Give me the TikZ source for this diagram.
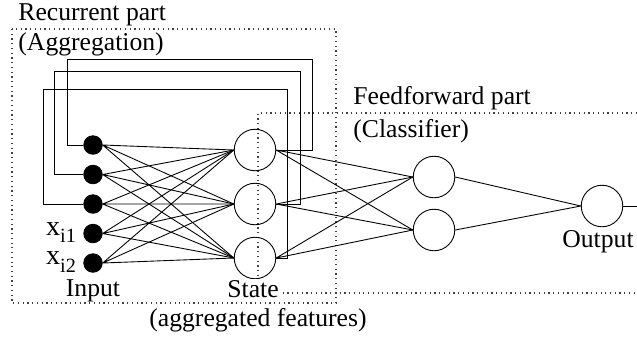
\documentclass[tikz,border=0pt]{standalone}
\usepackage{fontspec}
\setmainfont{Liberation Serif}
\newcommand{\subidx}[1]{\raisebox{-0.28em}{\fontsize{11.5}{12}\selectfont #1}}
\begin{document}
\begin{tikzpicture}[font=\fontsize{14.6}{17}\selectfont,line width=0.5pt,
        inp/.style={circle,draw,fill=black,minimum size=0.37cm,inner sep=0pt},
        neuron/.style={circle,draw,minimum size=0.83cm,inner sep=0pt},
        part/.style={dotted,line width=0.7pt,black!75},
        lbl/.style={inner sep=0pt}]
            \useasboundingbox (0,0) rectangle (12.74,-6.8);
            % Dotted frames
            \draw[part] (0.24,-0.58) rectangle (6.72,-6.06);
            \draw[part] (12.74,-2.26) -- (5.16,-2.26) -- (5.16,-5.86) -- (12.74,-5.86);
            \node[lbl,anchor=west] (node12) at (0.36,-0.30) {Recurrent part};
            \node[lbl,anchor=west] (node13) at (0.36,-0.88) {(Aggregation)};
            \node[lbl,anchor=west] (node14) at (7.06,-1.96) {Feedforward part};
            \node[lbl,anchor=west] (node15) at (7.06,-2.62) {(Classifier)};
            % Input layer
            \node[inp] (node1) at (1.86,-2.90) {};
            \node[inp] (node2) at (1.86,-3.49) {};
            \node[inp] (node3) at (1.86,-4.08) {};
            \node[inp] (node4) at (1.86,-4.67) {};
            \node[inp] (node5) at (1.86,-5.26) {};
            \node[lbl,anchor=east,xshift=-0.14cm,yshift=0.02cm] (node16) at (node4.west) {\fontsize{16}{18}\selectfont x\subidx{i1}};
            \node[lbl,anchor=east,xshift=-0.14cm,yshift=0.02cm] (node17) at (node5.west) {\fontsize{16}{18}\selectfont x\subidx{i2}};
            \node[lbl,yshift=-0.36cm] (node18) at (node5.south) {Input};
            % State layer
            \node[neuron] (node6) at (5.10,-3.00) {};
            \node[neuron] (node7) at (5.10,-4.08) {};
            \node[neuron] (node8) at (5.10,-5.16) {};
            \node[lbl,fill=white,inner sep=1pt,yshift=-0.2cm,xshift=-0.04cm] (node19) at (node8.south) {State};
            \node[lbl] (node20) at (5.16,-6.40) {(aggregated features)};
            % Classifier and output
            \node[neuron] (node9) at (8.68,-3.54) {};
            \node[neuron] (node10) at (8.68,-4.60) {};
            \node[neuron] (node11) at (12.04,-4.12) {};
            \node[lbl,yshift=-0.30cm,xshift=-0.08cm] (node21) at (node11.south) {Output};
            \coordinate (node22) at (12.74,-4.12);
            % Input -> state
            \draw (node1.east) -- (node6.west) (node1.east) -- (node7.west) (node1.east) -- (node8.west);
            \draw (node2.east) -- (node6.west) (node2.east) -- (node7.west) (node2.east) -- (node8.west);
            \draw (node3.east) -- (node6.west) (node3.east) -- (node7.west) (node3.east) -- (node8.west);
            \draw (node4.east) -- (node6.west) (node4.east) -- (node7.west) (node4.east) -- (node8.west);
            \draw (node5.east) -- (node6.west) (node5.east) -- (node7.west) (node5.east) -- (node8.west);
            % Recurrent loops back to the inputs
            \draw (node6.east) -- ++(0.73,0) |- (1.34,-1.18) |- (node1.west);
            \draw (node7.east) -- ++(0.49,0) |- (1.08,-1.42) |- (node2.west);
            \draw (node8.east) -- ++(0.23,0) |- (0.86,-1.78) |- (node3.west);
            % State -> classifier -> output
            \draw (node6.east) -- (node9.west) (node6.east) -- (node10.west);
            \draw (node7.east) -- (node9.west) (node7.east) -- (node10.west);
            \draw (node8.east) -- (node9.west) (node8.east) -- (node10.west);
            \draw (node9.east) -- (node11.west) (node10.east) -- (node11.west);
            \draw (node11.east) -- (node22);
        \end{tikzpicture}
\end{document}
